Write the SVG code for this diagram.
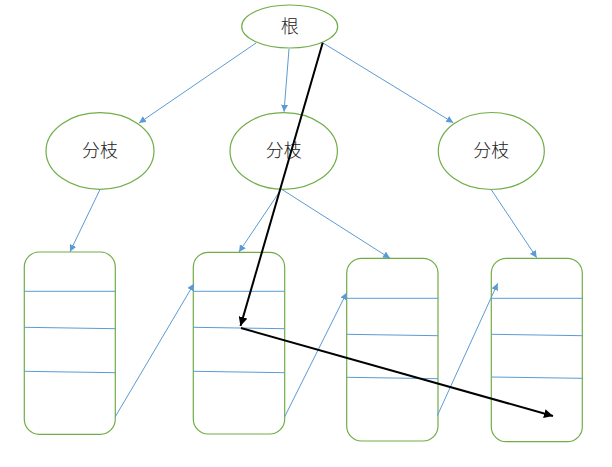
<svg xmlns="http://www.w3.org/2000/svg" width="612" height="467" viewBox="0 0 612 467">
<defs>
<marker id="ab" viewBox="0 0 10 10" refX="10" refY="5" markerWidth="7" markerHeight="7" markerUnits="userSpaceOnUse" orient="auto"><path d="M0,0 L10,5 L0,10 z" fill="#5B9BD5"/></marker>
<marker id="ak" viewBox="0 0 10 10" refX="10" refY="5" markerWidth="4.5" markerHeight="4.5" orient="auto"><path d="M0,0 L10,5 L0,10 z" fill="#000"/></marker>
<style>
.n{fill:#fff;stroke:#70AD47;stroke-width:1.2}
.d{stroke:#5B9BD5;stroke-width:1;fill:none}
.c{stroke:#5B9BD5;stroke-width:1;fill:none;marker-end:url(#ab)}
.k{stroke:#000;stroke-width:2;fill:none;marker-end:url(#ak)}
text{font-family:"Noto Sans CJK SC","Noto Sans CJK JP",sans-serif;font-size:18px;font-weight:300;fill:#222;text-anchor:middle;dominant-baseline:central}
</style>
</defs>
<rect width="612" height="467" fill="#fff"/>
<g id="root"><ellipse class="n" cx="289.7" cy="26.5" rx="48" ry="21.5"/><text x="289.7" y="25">根</text></g>
<g id="branch1"><ellipse class="n" cx="100" cy="151" rx="54" ry="38.3"/><text x="100" y="149">分枝</text></g>
<g id="branch2"><ellipse class="n" cx="283.7" cy="151" rx="53.7" ry="38.3"/><text x="283.7" y="149">分枝</text></g>
<g id="branch3"><ellipse class="n" cx="491.3" cy="151" rx="53" ry="38.5"/><text x="491.3" y="149">分枝</text></g>
<g id="leaf1"><rect class="n" x="24.3" y="252" width="91" height="182.3" rx="15"/>
<path class="d" d="M24.3,291.3H115.3M24.3,327.3L115.3,328.7M24.3,371.3L115.3,372.7"/></g>
<g id="leaf2"><rect class="n" x="193.3" y="252.3" width="91.4" height="181.7" rx="15"/>
<path class="d" d="M193.3,291.3H284.7M193.3,327.3L284.7,328.7M193.3,371.3L284.7,372.7"/></g>
<g id="leaf3"><rect class="n" x="346.7" y="258.3" width="91.3" height="182.7" rx="15"/>
<path class="d" d="M346.7,298.3H438M346.7,334.3L438,335.7M346.7,377.3L438,378.7"/></g>
<g id="leaf4"><rect class="n" x="491.3" y="258.3" width="91" height="183.4" rx="15"/>
<path class="d" d="M491.3,298.3H582.3M491.3,334.3L582.3,335.7M491.3,377L582.3,378.3"/></g>
<g id="connectors">
<path class="c" d="M256,43L139,123"/>
<path class="c" d="M289,49L284,111.7"/>
<path class="c" d="M323,43L453.3,122.7"/>
<path class="c" d="M100,189.5L70,251.7"/>
<path class="c" d="M281,189.5L239,252"/>
<path class="c" d="M281.7,189.3L390,258.3"/>
<path class="c" d="M491,189.3L536.7,257.7"/>
<path class="c" d="M115.3,416.7L194,283.7"/>
<path class="c" d="M284.7,416.7L346.7,292.7"/>
<path class="c" d="M437.3,415.7L497.7,283.3"/>
<path class="k" d="M322.7,42.7L240.5,326"/>
<path class="k" d="M241,328L553,416"/>
</g>
</svg>
